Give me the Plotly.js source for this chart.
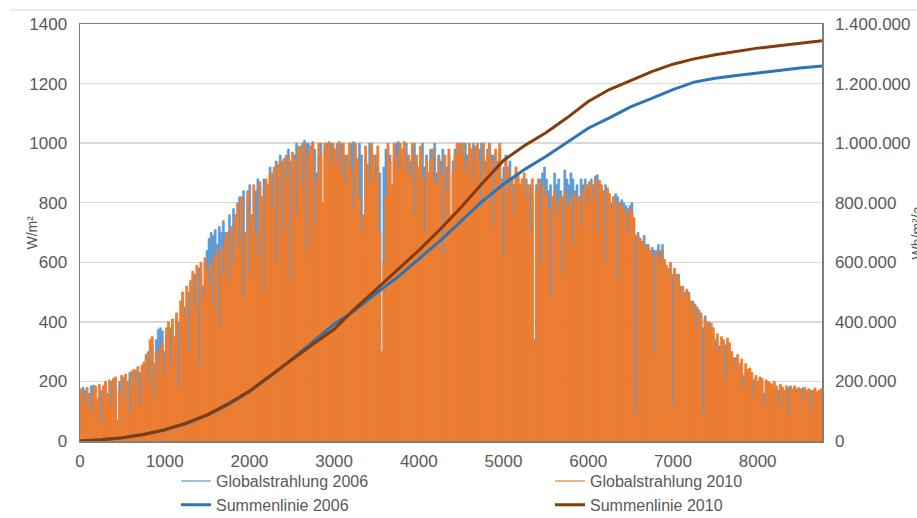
<!DOCTYPE html>
<html>
<head>
<meta charset="utf-8">
<script src="https://cdn.plot.ly/plotly-3.0.1.min.js"></script>
<style>html,body{margin:0;padding:0;background:#fff;}#chart{width:917px;height:518px;}</style>
</head>
<body>
<div id="chart"></div>
<script>
// Daily peak global irradiance (W/m²), day 0..364
const peak2010 = [
175,160,120,180,150,95,170,185,140,190,60,185,200,150,205,110,210,215,60,170,220,130,225,200,90,235,240,180,250,120,255,
265,290,200,340,350,150,300,260,310,330,220,380,400,260,410,350,430,180,470,500,420,520,300,540,570,450,590,250,600,480,615,
580,520,600,450,620,640,380,650,560,680,700,540,720,600,760,800,650,820,480,700,840,560,760,860,700,620,870,820,500,880,860,
900,780,920,600,930,940,700,950,880,960,540,970,940,760,980,990,850,1000,640,960,990,1000,720,880,1000,960,800,1000,980,1005,930,
1000,980,940,1005,900,1000,860,960,1000,920,780,1000,950,820,700,760,990,930,860,1000,960,880,990,700,300,600,820,1000,940,860,1000,
960,900,1000,980,1005,900,960,880,1000,760,960,920,990,880,700,950,900,940,980,860,870,950,900,620,960,840,980,760,900,960,1000,
1000,960,1000,900,940,1000,980,880,990,1000,940,780,1000,900,960,1000,940,720,980,900,1000,860,620,950,920,840,880,760,920,900,860,
880,900,820,860,700,880,320,840,880,600,860,820,840,780,480,820,840,760,800,820,560,840,800,780,820,660,830,800,820,720,840,
860,800,870,860,820,880,700,875,860,840,600,850,830,780,820,800,540,800,790,780,760,700,780,770,750,90,690,680,670,660,650,
650,640,620,300,640,620,600,640,610,590,560,600,120,580,560,540,500,520,480,510,490,470,430,460,380,440,420,90,410,400,380,
396,380,320,360,300,350,340,200,345,330,300,280,250,290,260,275,180,260,240,245,230,150,220,200,215,210,120,205,200,195,190,
200,185,120,190,180,170,185,90,180,175,185,160,180,175,140,180,170,175,100,170,178,165,170,175
];
const peak2006 = [
150,180,170,100,160,185,188,180,120,150,170,90,195,160,130,200,180,150,70,200,160,215,110,200,230,180,150,238,200,230,180,
250,200,300,280,320,260,340,375,380,370,300,350,260,380,390,300,420,400,350,480,450,300,500,530,420,560,500,580,560,520,600,
640,680,700,690,710,660,720,700,740,700,650,760,700,780,740,700,820,780,840,380,800,860,740,700,840,880,850,760,880,840,800,
920,900,700,940,900,960,940,900,960,980,940,760,960,1000,990,880,1000,1010,1000,1000,920,1005,980,900,960,1000,640,990,1000,800,1000,
980,900,1000,960,1000,920,960,900,940,1000,1005,880,900,1000,960,600,950,900,1000,980,840,960,920,900,260,920,980,860,960,700,950,
1000,1005,960,980,900,1000,960,940,980,1000,940,880,960,1000,920,960,900,980,940,1000,900,960,940,980,900,920,960,480,940,980,960,
980,1000,940,1000,960,940,980,1000,960,600,980,1000,960,940,980,1000,960,960,900,940,980,880,920,960,900,940,880,860,900,880,840,
860,840,880,800,860,820,340,860,840,880,900,920,880,840,860,800,900,860,880,840,820,910,880,860,900,880,840,860,700,880,860,
880,860,840,880,860,890,894,860,840,820,860,840,600,800,820,830,820,800,810,800,790,780,790,800,700,690,700,680,670,690,660,
660,640,650,640,620,660,640,660,600,560,580,500,560,520,540,560,520,480,500,480,500,440,470,420,450,410,430,380,420,380,400,
380,360,340,330,320,300,310,323,320,280,300,260,280,240,250,230,220,240,230,210,210,205,210,180,205,200,160,190,195,185,175,
180,175,170,185,180,160,170,180,185,170,180,175,170,165,178,170,160,175,170,165,170,160,165,170
];
// Cumulative sums (Wh/m²/a) read at these hours
const sumHours = [0,250,500,750,1000,1250,1500,1750,2000,2250,2500,2750,3000,3250,3500,3750,4000,4250,4500,4750,5000,5250,5500,5750,6000,6250,6500,6750,7000,7250,7500,7750,8000,8250,8500,8760];
const sum2006 = [0,4000,11000,22000,37000,58000,86000,122000,165000,218000,275000,335000,392000,440000,497000,550000,610000,672000,738000,805000,862000,912000,955000,1003000,1050000,1085000,1122000,1150000,1180000,1205000,1218000,1227000,1236000,1244000,1252000,1259000];
const sum2010 = [0,4000,11000,22000,38000,60000,88000,125000,168000,220000,275000,325000,375000,445000,510000,575000,640000,710000,785000,865000,942000,992000,1035000,1085000,1140000,1180000,1210000,1240000,1265000,1283000,1297000,1309000,1319000,1327000,1336000,1344000];
const xTicks = [0,1000,2000,3000,4000,5000,6000,7000,8000];
const names = ['Globalstrahlung 2006','Globalstrahlung 2010','Summenlinie 2006','Summenlinie 2010'];

const hourOf = arr => arr.map((v, d) => d * 24 + 12);
const F = 'Liberation Sans, Arial, sans-serif';
const grey = '#595959';

const traces = [
  {type:'bar', x: hourOf(peak2006), y: peak2006, width: 24, marker:{color:'#5B9BD5', line:{width:0.6, color:'#5B9BD5'}}, showlegend:false, hoverinfo:'skip'},
  {type:'bar', x: hourOf(peak2010), y: peak2010, width: 24, marker:{color:'#ED7D31', line:{width:0.8, color:'#ED7D31'}}, showlegend:false, hoverinfo:'skip'},
  {type:'scatter', mode:'lines', x:[null], y:[null], name:names[0], line:{color:'#9DC3E6', width:2}, legend:'legend'},
  {type:'scatter', mode:'lines', x:[null], y:[null], name:names[1], line:{color:'#F4B183', width:2}, legend:'legend2'},
  {type:'scatter', mode:'lines', x: sumHours, y: sum2006, yaxis:'y2', name:names[2], line:{color:'#2E75B6', width:3}, legend:'legend'},
  {type:'scatter', mode:'lines', x: sumHours, y: sum2010, yaxis:'y2', name:names[3], line:{color:'#843C0C', width:3}, legend:'legend2'}
];

const legendBase = {orientation:'v', xref:'paper', yref:'container', y:0.104, yanchor:'top', xanchor:'left',
  font:{size:16, color:grey, family:F}, traceorder:'normal', bgcolor:'rgba(0,0,0,0)'};

const layout = {
  width: 917, height: 518,
  margin: {l:80, r:95, t:24, b:77},
  paper_bgcolor:'#fff', plot_bgcolor:'#fff',
  barmode:'overlay',
  separators: ',.',
  font: {family: F, color: grey, size: 16},
  xaxis: {range:[0,8760], tickvals: xTicks, ticktext: xTicks.map(String), showgrid:false, zeroline:false,
          showline:true, linecolor:'#7F7F7F', linewidth:1.5, mirror:true, ticks:'', ticklabelstandoff:4,
          tickfont:{size:17, color:grey, family:F}},
  yaxis: {range:[0,1400], dtick:200, showgrid:true, gridcolor:'#D9D9D9', gridwidth:1.5, zeroline:false,
          showline:true, linecolor:'#7F7F7F', linewidth:1.5, ticks:'', ticklabelstandoff:8,
          tickfont:{size:17, color:grey, family:F}},
  yaxis2: {range:[0,1400000], dtick:200000, tickformat:',d', overlaying:'y', side:'right', showgrid:false, zeroline:false,
           showline:true, linecolor:'#7F7F7F', linewidth:1.5, ticks:'', ticklabelstandoff:8,
           tickfont:{size:17, color:grey, family:F}},
  legend: Object.assign({}, legendBase, {x: (176-80)/742}),
  legend2: Object.assign({}, legendBase, {x: (550-80)/742}),
  annotations: [
    {xref:'paper', yref:'paper', x:(31-80)/742, y:0.5, xanchor:'center', yanchor:'middle', textangle:-90,
     text:'W/m²', showarrow:false, font:{size:14, color:grey, family:F}},
    {xref:'paper', yref:'paper', x:1.128, y:0.5, xanchor:'center', yanchor:'middle', textangle:-90,
     text:'Wh/m²/a', showarrow:false, font:{size:14, color:grey, family:F}}],
  shapes: [{type:'line', xref:'paper', yref:'paper', x0:-0.094, x1:1.2, y0:1.0336, y1:1.0336, line:{color:'#E3E3E3', width:1.5}}],
  showlegend:true
};

Plotly.newPlot('chart', traces, layout, {displayModeBar:false, staticPlot:true});
</script>
</body>
</html>
